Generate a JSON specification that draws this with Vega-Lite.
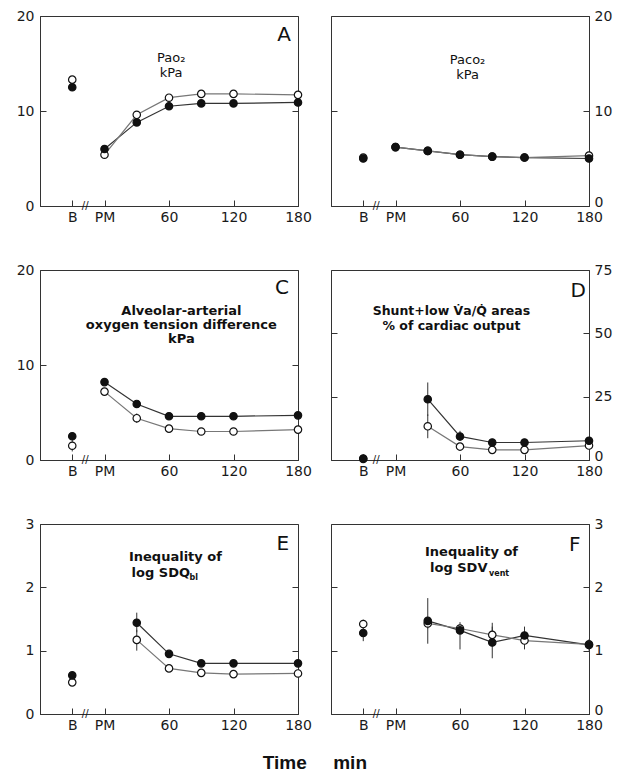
{
  "$schema": "https://vega.github.io/schema/vega-lite/v6.json",
  "background": "white",
  "padding": {"left": 5, "top": 8, "right": 5, "bottom": 0},
  "config": {
    "view": {"stroke": "#333", "strokeWidth": 1},
    "axis": {"labelFont": "DejaVu Sans", "labelFontSize": 14, "labelColor": "#1a1a1a", "tickColor": "#333", "domainColor": "#333", "tickSize": -6, "grid": false, "labelFlush": false},
    "text": {"font": "DejaVu Sans", "color": "#111"}
  },
  "title": {"text": "Time\u00a0\u00a0\u00a0\u00a0\u00a0min", "orient": "bottom", "anchor": "middle", "font": "Liberation Sans", "fontSize": 19, "fontWeight": "bold", "color": "#111", "offset": 21, "dx": 6},
  "datasets": {
    "d": [
      {"p": "A", "g": "filled", "t": -30, "v": 12.5}, {"p": "A", "g": "filled", "t": 0, "v": 6.0}, {"p": "A", "g": "filled", "t": 30, "v": 8.8}, {"p": "A", "g": "filled", "t": 60, "v": 10.5}, {"p": "A", "g": "filled", "t": 90, "v": 10.8}, {"p": "A", "g": "filled", "t": 120, "v": 10.8}, {"p": "A", "g": "filled", "t": 180, "v": 10.9},
      {"p": "A", "g": "open", "t": -30, "v": 13.3}, {"p": "A", "g": "open", "t": 0, "v": 5.4}, {"p": "A", "g": "open", "t": 30, "v": 9.6}, {"p": "A", "g": "open", "t": 60, "v": 11.4}, {"p": "A", "g": "open", "t": 90, "v": 11.8}, {"p": "A", "g": "open", "t": 120, "v": 11.8}, {"p": "A", "g": "open", "t": 180, "v": 11.7},
      {"p": "B", "g": "filled", "t": -30, "v": 5.0}, {"p": "B", "g": "filled", "t": 0, "v": 6.2}, {"p": "B", "g": "filled", "t": 30, "v": 5.8}, {"p": "B", "g": "filled", "t": 60, "v": 5.4}, {"p": "B", "g": "filled", "t": 90, "v": 5.2}, {"p": "B", "g": "filled", "t": 120, "v": 5.1}, {"p": "B", "g": "filled", "t": 180, "v": 5.0},
      {"p": "B", "g": "open", "t": -30, "v": 5.1}, {"p": "B", "g": "open", "t": 0, "v": 6.2}, {"p": "B", "g": "open", "t": 30, "v": 5.8}, {"p": "B", "g": "open", "t": 60, "v": 5.4}, {"p": "B", "g": "open", "t": 90, "v": 5.2}, {"p": "B", "g": "open", "t": 120, "v": 5.1}, {"p": "B", "g": "open", "t": 180, "v": 5.3},
      {"p": "C", "g": "filled", "t": -30, "v": 2.5}, {"p": "C", "g": "filled", "t": 0, "v": 8.2}, {"p": "C", "g": "filled", "t": 30, "v": 5.9}, {"p": "C", "g": "filled", "t": 60, "v": 4.6}, {"p": "C", "g": "filled", "t": 90, "v": 4.6}, {"p": "C", "g": "filled", "t": 120, "v": 4.6}, {"p": "C", "g": "filled", "t": 180, "v": 4.7},
      {"p": "C", "g": "open", "t": -30, "v": 1.5, "lo": 0.9, "hi": 2.1}, {"p": "C", "g": "open", "t": 0, "v": 7.2}, {"p": "C", "g": "open", "t": 30, "v": 4.4, "lo": 3.9, "hi": 4.9}, {"p": "C", "g": "open", "t": 60, "v": 3.3}, {"p": "C", "g": "open", "t": 90, "v": 3.0}, {"p": "C", "g": "open", "t": 120, "v": 3.0}, {"p": "C", "g": "open", "t": 180, "v": 3.2},
      {"p": "D", "g": "filled", "t": -30, "v": 0.6}, {"p": "D", "g": "filled", "t": 30, "v": 24, "lo": 17.4, "hi": 30.6}, {"p": "D", "g": "filled", "t": 60, "v": 9.3, "lo": 7.5, "hi": 11.5}, {"p": "D", "g": "filled", "t": 90, "v": 6.9}, {"p": "D", "g": "filled", "t": 120, "v": 6.9}, {"p": "D", "g": "filled", "t": 180, "v": 7.6},
      {"p": "D", "g": "open", "t": -30, "v": 0.4}, {"p": "D", "g": "open", "t": 30, "v": 13.3, "lo": 8.6, "hi": 18}, {"p": "D", "g": "open", "t": 60, "v": 5.3}, {"p": "D", "g": "open", "t": 90, "v": 4.0}, {"p": "D", "g": "open", "t": 120, "v": 4.0}, {"p": "D", "g": "open", "t": 180, "v": 5.7},
      {"p": "E", "g": "filled", "t": -30, "v": 0.61}, {"p": "E", "g": "filled", "t": 30, "v": 1.44, "lo": 1.29, "hi": 1.6}, {"p": "E", "g": "filled", "t": 60, "v": 0.95}, {"p": "E", "g": "filled", "t": 90, "v": 0.8}, {"p": "E", "g": "filled", "t": 120, "v": 0.8}, {"p": "E", "g": "filled", "t": 180, "v": 0.8},
      {"p": "E", "g": "open", "t": -30, "v": 0.5}, {"p": "E", "g": "open", "t": 30, "v": 1.17, "lo": 1.0, "hi": 1.33}, {"p": "E", "g": "open", "t": 60, "v": 0.72}, {"p": "E", "g": "open", "t": 90, "v": 0.65}, {"p": "E", "g": "open", "t": 120, "v": 0.63}, {"p": "E", "g": "open", "t": 180, "v": 0.64},
      {"p": "F", "g": "filled", "t": -30, "v": 1.28, "lo": 1.15, "hi": 1.41}, {"p": "F", "g": "filled", "t": 30, "v": 1.47, "lo": 1.11, "hi": 1.83}, {"p": "F", "g": "filled", "t": 60, "v": 1.32, "lo": 1.02, "hi": 1.45}, {"p": "F", "g": "filled", "t": 90, "v": 1.13, "lo": 0.88, "hi": 1.38}, {"p": "F", "g": "filled", "t": 120, "v": 1.24, "lo": 1.02, "hi": 1.38}, {"p": "F", "g": "filled", "t": 180, "v": 1.09, "lo": 1.0, "hi": 1.18},
      {"p": "F", "g": "open", "t": -30, "v": 1.42, "lo": 1.35, "hi": 1.49}, {"p": "F", "g": "open", "t": 30, "v": 1.43, "lo": 1.35, "hi": 1.5}, {"p": "F", "g": "open", "t": 60, "v": 1.35}, {"p": "F", "g": "open", "t": 90, "v": 1.25, "lo": 1.1, "hi": 1.44}, {"p": "F", "g": "open", "t": 120, "v": 1.16}, {"p": "F", "g": "open", "t": 180, "v": 1.1}
    ]
  },
  "spacing": 37,
  "vconcat": [
    {
      "spacing": 18,
      "hconcat": [
        {
          "width": 258, "height": 190,
          "resolve": {"scale": {"y": "independent"}},
          "layer": [
            {
              "data": {"name": "d"},
              "transform": [{"filter": "datum.p == 'A'"}],
              "encoding": {
                "x": {"field": "t", "type": "quantitative", "scale": {"domain": [-60, 180], "nice": false, "zero": false}, "axis": {"values": [-30, 0, 60, 120, 180], "labelExpr": "datum.value == -30 ? 'B' : datum.value == 0 ? 'PM' : datum.label", "title": null, "labelPadding": 10}},
                "y": {"field": "v", "type": "quantitative", "scale": {"domain": [0, 20], "nice": false}, "axis": {"orient": "left", "values": [0, 10, 20], "title": null, "labelPadding": 12, "minExtent": 34}}
              },
              "layer": [
                {"mark": {"type": "rule", "color": "#333", "strokeWidth": 1}, "transform": [{"filter": "isValid(datum.lo)"}], "encoding": {"y": {"field": "lo", "type": "quantitative"}, "y2": {"field": "hi"}}},
                {"mark": {"type": "line", "strokeWidth": 1.2}, "transform": [{"filter": "datum.t >= 0"}], "encoding": {"detail": {"field": "g"}, "stroke": {"field": "g", "type": "nominal", "scale": {"domain": ["filled", "open"], "range": ["#333", "#777"]}, "legend": null}}},
                {"mark": {"type": "point", "filled": true, "size": 55, "stroke": "#111", "strokeWidth": 1.2, "opacity": 1}, "encoding": {"fill": {"field": "g", "type": "nominal", "scale": {"domain": ["filled", "open"], "range": ["#111", "#ffffff"]}, "legend": null}, "order": {"field": "g", "sort": "descending"}}}
              ]
            },
            {
              "data": {"values": [{}]},
              "encoding": {
                "x": {"datum": 0, "type": "quantitative", "scale": {"domain": [-60, 180], "nice": false, "zero": false}, "axis": {"values": [-30, 0, 60, 120, 180], "labelExpr": "datum.value == -30 ? 'B' : datum.value == 0 ? 'PM' : datum.label", "title": null, "labelPadding": 10}},
                "y": {"datum": 0, "type": "quantitative", "scale": {"domain": [0, 20], "nice": false}, "axis": {"orient": "right", "values": [0, 10, 20], "labels": false, "domain": false, "title": null, "minExtent": 0}}
              },
              "layer": [
                {"mark": {"type": "text", "fontSize": 20}, "encoding": {"x": {"datum": 167}, "y": {"datum": 18}, "text": {"value": "A"}}},
                {"mark": {"type": "text", "fontSize": 13, "lineHeight": 15}, "encoding": {"x": {"datum": 62}, "y": {"datum": 15.6}, "text": {"value": ["Pao₂", "kPa"]}}},
                {"mark": {"type": "text", "fontSize": 10}, "encoding": {"x": {"datum": -18}, "y": {"datum": 0}, "text": {"value": "//"}}}
              ]
            }
          ]
        },
        {
          "width": 258, "height": 190,
          "resolve": {"scale": {"y": "independent"}},
          "layer": [
            {
              "data": {"name": "d"},
              "transform": [{"filter": "datum.p == 'B'"}],
              "encoding": {
                "x": {"field": "t", "type": "quantitative", "scale": {"domain": [-60, 180], "nice": false, "zero": false}, "axis": {"values": [-30, 0, 60, 120, 180], "labelExpr": "datum.value == -30 ? 'B' : datum.value == 0 ? 'PM' : datum.label", "title": null, "labelPadding": 10}},
                "y": {"field": "v", "type": "quantitative", "scale": {"domain": [0, 20], "nice": false}, "axis": {"orient": "right", "values": [0, 10, 20], "title": null, "labelPadding": 11, "labelBaseline": {"condition": {"test": "datum.value == 0", "value": "alphabetic"}, "value": "middle"}}}
              },
              "layer": [
                {"mark": {"type": "rule", "color": "#333", "strokeWidth": 1}, "transform": [{"filter": "isValid(datum.lo)"}], "encoding": {"y": {"field": "lo", "type": "quantitative"}, "y2": {"field": "hi"}}},
                {"mark": {"type": "line", "strokeWidth": 1.2}, "transform": [{"filter": "datum.t >= 0"}], "encoding": {"detail": {"field": "g"}, "stroke": {"field": "g", "type": "nominal", "scale": {"domain": ["filled", "open"], "range": ["#333", "#777"]}, "legend": null}}},
                {"mark": {"type": "point", "filled": true, "size": 55, "stroke": "#111", "strokeWidth": 1.2, "opacity": 1}, "encoding": {"fill": {"field": "g", "type": "nominal", "scale": {"domain": ["filled", "open"], "range": ["#111", "#ffffff"]}, "legend": null}, "order": {"field": "g", "sort": "descending"}}}
              ]
            },
            {
              "data": {"values": [{}]},
              "encoding": {
                "x": {"datum": 0, "type": "quantitative", "scale": {"domain": [-60, 180], "nice": false, "zero": false}, "axis": {"values": [-30, 0, 60, 120, 180], "labelExpr": "datum.value == -30 ? 'B' : datum.value == 0 ? 'PM' : datum.label", "title": null, "labelPadding": 10}},
                "y": {"datum": 0, "type": "quantitative", "scale": {"domain": [0, 20], "nice": false}, "axis": {"orient": "left", "values": [0, 10, 20], "labels": false, "domain": false, "title": null, "minExtent": 0}}
              },
              "layer": [
                {"mark": {"type": "text", "fontSize": 13, "lineHeight": 15}, "encoding": {"x": {"datum": 67}, "y": {"datum": 15.4}, "text": {"value": ["Paco₂", "kPa"]}}},
                {"mark": {"type": "text", "fontSize": 10}, "encoding": {"x": {"datum": -18}, "y": {"datum": 0}, "text": {"value": "//"}}}
              ]
            }
          ]
        }
      ]
    },
    {
      "spacing": 18,
      "hconcat": [
        {
          "width": 258, "height": 190,
          "resolve": {"scale": {"y": "independent"}},
          "layer": [
            {
              "data": {"name": "d"},
              "transform": [{"filter": "datum.p == 'C'"}],
              "encoding": {
                "x": {"field": "t", "type": "quantitative", "scale": {"domain": [-60, 180], "nice": false, "zero": false}, "axis": {"values": [-30, 0, 60, 120, 180], "labelExpr": "datum.value == -30 ? 'B' : datum.value == 0 ? 'PM' : datum.label", "title": null, "labelPadding": 10}},
                "y": {"field": "v", "type": "quantitative", "scale": {"domain": [0, 20], "nice": false}, "axis": {"orient": "left", "values": [0, 10, 20], "title": null, "labelPadding": 12, "minExtent": 34}}
              },
              "layer": [
                {"mark": {"type": "rule", "color": "#333", "strokeWidth": 1}, "transform": [{"filter": "isValid(datum.lo)"}], "encoding": {"y": {"field": "lo", "type": "quantitative"}, "y2": {"field": "hi"}}},
                {"mark": {"type": "line", "strokeWidth": 1.2}, "transform": [{"filter": "datum.t >= 0"}], "encoding": {"detail": {"field": "g"}, "stroke": {"field": "g", "type": "nominal", "scale": {"domain": ["filled", "open"], "range": ["#333", "#777"]}, "legend": null}}},
                {"mark": {"type": "point", "filled": true, "size": 55, "stroke": "#111", "strokeWidth": 1.2, "opacity": 1}, "encoding": {"fill": {"field": "g", "type": "nominal", "scale": {"domain": ["filled", "open"], "range": ["#111", "#ffffff"]}, "legend": null}, "order": {"field": "g", "sort": "descending"}}}
              ]
            },
            {
              "data": {"values": [{}]},
              "encoding": {
                "x": {"datum": 0, "type": "quantitative", "scale": {"domain": [-60, 180], "nice": false, "zero": false}, "axis": {"values": [-30, 0, 60, 120, 180], "labelExpr": "datum.value == -30 ? 'B' : datum.value == 0 ? 'PM' : datum.label", "title": null, "labelPadding": 10}},
                "y": {"datum": 0, "type": "quantitative", "scale": {"domain": [0, 20], "nice": false}, "axis": {"orient": "right", "values": [0, 10, 20], "labels": false, "domain": false, "title": null, "minExtent": 0}}
              },
              "layer": [
                {"mark": {"type": "text", "fontSize": 20}, "encoding": {"x": {"datum": 165}, "y": {"datum": 18.1}, "text": {"value": "C"}}},
                {"mark": {"type": "text", "fontSize": 13, "fontWeight": "bold", "lineHeight": 14}, "encoding": {"x": {"datum": 71.5}, "y": {"datum": 15.7}, "text": {"value": ["Alveolar-arterial", "oxygen tension difference", "kPa"]}}},
                {"mark": {"type": "text", "fontSize": 10}, "encoding": {"x": {"datum": -18}, "y": {"datum": 0}, "text": {"value": "//"}}}
              ]
            }
          ]
        },
        {
          "width": 258, "height": 190,
          "resolve": {"scale": {"y": "independent"}},
          "layer": [
            {
              "data": {"name": "d"},
              "transform": [{"filter": "datum.p == 'D'"}],
              "encoding": {
                "x": {"field": "t", "type": "quantitative", "scale": {"domain": [-60, 180], "nice": false, "zero": false}, "axis": {"values": [-30, 0, 60, 120, 180], "labelExpr": "datum.value == -30 ? 'B' : datum.value == 0 ? 'PM' : datum.label", "title": null, "labelPadding": 10}},
                "y": {"field": "v", "type": "quantitative", "scale": {"domain": [0, 75], "nice": false}, "axis": {"orient": "right", "values": [0, 25, 50, 75], "title": null, "labelPadding": 11, "labelBaseline": {"condition": {"test": "datum.value == 0", "value": "alphabetic"}, "value": "middle"}}}
              },
              "layer": [
                {"mark": {"type": "rule", "color": "#333", "strokeWidth": 1}, "transform": [{"filter": "isValid(datum.lo)"}], "encoding": {"y": {"field": "lo", "type": "quantitative"}, "y2": {"field": "hi"}}},
                {"mark": {"type": "line", "strokeWidth": 1.2}, "transform": [{"filter": "datum.t >= 0"}], "encoding": {"detail": {"field": "g"}, "stroke": {"field": "g", "type": "nominal", "scale": {"domain": ["filled", "open"], "range": ["#333", "#777"]}, "legend": null}}},
                {"mark": {"type": "point", "filled": true, "size": 55, "stroke": "#111", "strokeWidth": 1.2, "opacity": 1}, "encoding": {"fill": {"field": "g", "type": "nominal", "scale": {"domain": ["filled", "open"], "range": ["#111", "#ffffff"]}, "legend": null}, "order": {"field": "g", "sort": "descending"}}}
              ]
            },
            {
              "data": {"values": [{}]},
              "encoding": {
                "x": {"datum": 0, "type": "quantitative", "scale": {"domain": [-60, 180], "nice": false, "zero": false}, "axis": {"values": [-30, 0, 60, 120, 180], "labelExpr": "datum.value == -30 ? 'B' : datum.value == 0 ? 'PM' : datum.label", "title": null, "labelPadding": 10}},
                "y": {"datum": 0, "type": "quantitative", "scale": {"domain": [0, 75], "nice": false}, "axis": {"orient": "left", "values": [0, 25, 50, 75], "labels": false, "domain": false, "title": null, "minExtent": 0}}
              },
              "layer": [
                {"mark": {"type": "text", "fontSize": 20}, "encoding": {"x": {"datum": 170}, "y": {"datum": 66.6}, "text": {"value": "D"}}},
                {"mark": {"type": "text", "fontSize": 12.5, "fontWeight": "bold", "lineHeight": 15}, "encoding": {"x": {"datum": 52}, "y": {"datum": 58.9}, "text": {"value": ["Shunt+low V̇a/Q̇ areas", "% of cardiac output"]}}},
                {"mark": {"type": "text", "fontSize": 10}, "encoding": {"x": {"datum": -18}, "y": {"datum": 0}, "text": {"value": "//"}}}
              ]
            }
          ]
        }
      ]
    },
    {
      "spacing": 18,
      "hconcat": [
        {
          "width": 258, "height": 190,
          "resolve": {"scale": {"y": "independent"}},
          "layer": [
            {
              "data": {"name": "d"},
              "transform": [{"filter": "datum.p == 'E'"}],
              "encoding": {
                "x": {"field": "t", "type": "quantitative", "scale": {"domain": [-60, 180], "nice": false, "zero": false}, "axis": {"values": [-30, 0, 60, 120, 180], "labelExpr": "datum.value == -30 ? 'B' : datum.value == 0 ? 'PM' : datum.label", "title": null, "labelPadding": 10}},
                "y": {"field": "v", "type": "quantitative", "scale": {"domain": [0, 3], "nice": false}, "axis": {"orient": "left", "values": [0, 1, 2, 3], "title": null, "labelPadding": 12, "minExtent": 34}}
              },
              "layer": [
                {"mark": {"type": "rule", "color": "#333", "strokeWidth": 1}, "transform": [{"filter": "isValid(datum.lo)"}], "encoding": {"y": {"field": "lo", "type": "quantitative"}, "y2": {"field": "hi"}}},
                {"mark": {"type": "line", "strokeWidth": 1.2}, "transform": [{"filter": "datum.t >= 0"}], "encoding": {"detail": {"field": "g"}, "stroke": {"field": "g", "type": "nominal", "scale": {"domain": ["filled", "open"], "range": ["#333", "#777"]}, "legend": null}}},
                {"mark": {"type": "point", "filled": true, "size": 55, "stroke": "#111", "strokeWidth": 1.2, "opacity": 1}, "encoding": {"fill": {"field": "g", "type": "nominal", "scale": {"domain": ["filled", "open"], "range": ["#111", "#ffffff"]}, "legend": null}, "order": {"field": "g", "sort": "descending"}}}
              ]
            },
            {
              "data": {"values": [{}]},
              "encoding": {
                "x": {"datum": 0, "type": "quantitative", "scale": {"domain": [-60, 180], "nice": false, "zero": false}, "axis": {"values": [-30, 0, 60, 120, 180], "labelExpr": "datum.value == -30 ? 'B' : datum.value == 0 ? 'PM' : datum.label", "title": null, "labelPadding": 10}},
                "y": {"datum": 0, "type": "quantitative", "scale": {"domain": [0, 3], "nice": false}, "axis": {"orient": "right", "values": [0, 1, 2, 3], "labels": false, "domain": false, "title": null, "minExtent": 0}}
              },
              "layer": [
                {"mark": {"type": "text", "fontSize": 20}, "encoding": {"x": {"datum": 165.8}, "y": {"datum": 2.68}, "text": {"value": "E"}}},
                {"mark": {"type": "text", "fontSize": 13, "fontWeight": "bold"}, "encoding": {"x": {"datum": 66}, "y": {"datum": 2.48}, "text": {"value": "Inequality of"}}},
                {"mark": {"type": "text", "fontSize": 13, "fontWeight": "bold", "align": "left"}, "encoding": {"x": {"datum": 25.2}, "y": {"datum": 2.23}, "text": {"value": "log SDQ"}}},
                {"mark": {"type": "text", "fontSize": 8, "fontWeight": "bold", "align": "left"}, "encoding": {"x": {"datum": 79}, "y": {"datum": 2.14}, "text": {"value": "bl"}}},
                {"mark": {"type": "text", "fontSize": 10}, "encoding": {"x": {"datum": -18}, "y": {"datum": 0}, "text": {"value": "//"}}}
              ]
            }
          ]
        },
        {
          "width": 258, "height": 190,
          "resolve": {"scale": {"y": "independent"}},
          "layer": [
            {
              "data": {"name": "d"},
              "transform": [{"filter": "datum.p == 'F'"}],
              "encoding": {
                "x": {"field": "t", "type": "quantitative", "scale": {"domain": [-60, 180], "nice": false, "zero": false}, "axis": {"values": [-30, 0, 60, 120, 180], "labelExpr": "datum.value == -30 ? 'B' : datum.value == 0 ? 'PM' : datum.label", "title": null, "labelPadding": 10}},
                "y": {"field": "v", "type": "quantitative", "scale": {"domain": [0, 3], "nice": false}, "axis": {"orient": "right", "values": [0, 1, 2, 3], "title": null, "labelPadding": 11, "labelBaseline": {"condition": {"test": "datum.value == 0", "value": "alphabetic"}, "value": "middle"}}}
              },
              "layer": [
                {"mark": {"type": "rule", "color": "#333", "strokeWidth": 1}, "transform": [{"filter": "isValid(datum.lo)"}], "encoding": {"y": {"field": "lo", "type": "quantitative"}, "y2": {"field": "hi"}}},
                {"mark": {"type": "line", "strokeWidth": 1.2}, "transform": [{"filter": "datum.t >= 0"}], "encoding": {"detail": {"field": "g"}, "stroke": {"field": "g", "type": "nominal", "scale": {"domain": ["filled", "open"], "range": ["#333", "#777"]}, "legend": null}}},
                {"mark": {"type": "point", "filled": true, "size": 55, "stroke": "#111", "strokeWidth": 1.2, "opacity": 1}, "encoding": {"fill": {"field": "g", "type": "nominal", "scale": {"domain": ["filled", "open"], "range": ["#111", "#ffffff"]}, "legend": null}, "order": {"field": "g", "sort": "descending"}}}
              ]
            },
            {
              "data": {"values": [{}]},
              "encoding": {
                "x": {"datum": 0, "type": "quantitative", "scale": {"domain": [-60, 180], "nice": false, "zero": false}, "axis": {"values": [-30, 0, 60, 120, 180], "labelExpr": "datum.value == -30 ? 'B' : datum.value == 0 ? 'PM' : datum.label", "title": null, "labelPadding": 10}},
                "y": {"datum": 0, "type": "quantitative", "scale": {"domain": [0, 3], "nice": false}, "axis": {"orient": "left", "values": [0, 1, 2, 3], "labels": false, "domain": false, "title": null, "minExtent": 0}}
              },
              "layer": [
                {"mark": {"type": "text", "fontSize": 20}, "encoding": {"x": {"datum": 166.7}, "y": {"datum": 2.67}, "text": {"value": "F"}}},
                {"mark": {"type": "text", "fontSize": 13, "fontWeight": "bold"}, "encoding": {"x": {"datum": 70.7}, "y": {"datum": 2.56}, "text": {"value": "Inequality of"}}},
                {"mark": {"type": "text", "fontSize": 13, "fontWeight": "bold", "align": "left"}, "encoding": {"x": {"datum": 32.1}, "y": {"datum": 2.3}, "text": {"value": "log SDV"}}},
                {"mark": {"type": "text", "fontSize": 8, "fontWeight": "bold", "align": "left"}, "encoding": {"x": {"datum": 87}, "y": {"datum": 2.21}, "text": {"value": "vent"}}},
                {"mark": {"type": "text", "fontSize": 10}, "encoding": {"x": {"datum": -18}, "y": {"datum": 0}, "text": {"value": "//"}}}
              ]
            }
          ]
        }
      ]
    }
  ]
}
